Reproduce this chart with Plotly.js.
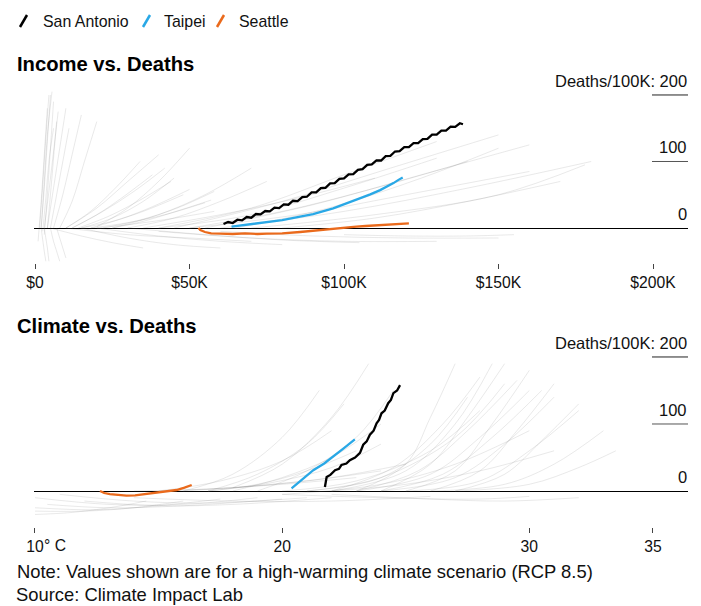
<!DOCTYPE html>
<html>
<head>
<meta charset="utf-8">
<script src="https://cdn.plot.ly/plotly-3.0.1.min.js"></script>
<style>html,body{margin:0;padding:0;background:#fff}#chart{width:701px;height:606px}</style>
</head>
<body>
<div id="chart"></div>
<script>
// ---------- DATA ----------
const cities = ['San Antonio', 'Taipei', 'Seattle'];
const cityColors = ['#000000', '#29a8e6', '#ea6a1c'];

// Income (thousand USD) vs deaths per 100K
const saIncomeX = [61,62.5,64,65.5,67,68.5,70,71.5,73,74.5,76,77.5,79,80.5,82,83.5,85,86.5,88,89.5,91,92.5,94,95.5,97,98.5,100,101.5,103,104.5,106,107.5,109,110.5,112,113.5,115,116.5,118,119.5,121,122.5,124,125.5,127,128.5,130,131.5,133,134.5,136,137.5,138.5];
const saIncomeY = [6,9,7.5,12.5,11.5,16.5,15.5,21,20.5,25.5,25,30.5,30,35.5,35,41,40.5,46.5,47,53.5,53.5,60,60.5,67,67.5,74,74.5,80.5,81,87.5,88.5,95,95.5,101.5,101.5,108,108.5,115,115.5,121.5,121.5,127.5,127.5,133.5,134,140.5,140.5,146.5,146.5,152.5,152,157.5,156];
const tpIncomeX = [63.6,67,71,75,80,85.8,90,96.5,101,105,108.5,111.7,114,116,117.5,119];
const tpIncomeY = [2,4,6,8,12,17,21,29.6,37,44.6,50.5,57,62,67.5,72,76];
const seIncomeX = [52.9,53.5,55,57,60,64,68,72,75,80,85.8,90,96.5,100,104,107,111,115,118,121];
const seIncomeY = [0,-3,-6,-8,-8.5,-9,-8,-9,-8.5,-8,-6,-4,-1,1,2,3,4,5,6,7];

// Climate (mean temperature, deg C) vs deaths per 100K
const saClimateX = [21.73,21.8,21.95,22.14,22.3,22.4,22.6,22.74,22.95,23.15,23.28,23.42,23.55,23.7,23.82,23.92,24.02,24.15,24.29,24.4,24.5,24.65,24.77];
const saClimateY = [6,21,24,31,33,39,41,46,50,57,69,74,84,90,101,106,116,120,131,136,146,150,158];
const tpClimateX = [20.38,20.8,21.26,21.7,22.07,22.5,22.94];
const tpClimateY = [4,17,31,41,51,64,77];
const seClimateX = [12.63,12.8,13.03,13.35,13.7,14.05,14.38,14.7,15.06,15.4,15.73,16.05,16.34];
const seClimateY = [0,-3,-4.5,-6,-7,-6.5,-5,-4,-2.5,-1,1.5,5,9];

// Faint background lines: all other cities (estimated), [x points], [y points]
const incomeOthersX = [
 [2,3,4,5],[3,4,5,6],[1,2,3,4],[4,6,8,10],[5,7,9,11],[6,9,12,15],[8,12,16,20],[2,3,4,5.5],[3,4.5,6,7.5],[1.5,2.5,3.5,4.5],[4,5,6,7],[2.5,3.5,4.5,6],
 [3,3.5,4,4.5],[5,6,7,8],[7,8,9,10],[2,2.5,3,3.5],
 [10,18,26,34],[12,20,28,38],[15,25,35,45],[15,25,35,48],[18,30,42,55],[20,32,44,58],[10,20,30,40],[20,30,40,50],
 [25,40,55,70],[30,45,60,75],[12,22,32,42],[22,34,46,58],[14,24,34,44],[18,28,38,50],[25,35,45,57],
 [40,70,100,130],[50,80,110,140],[50,85,120,160],[60,100,140,180],[70,110,150,178],[40,70,100,130],[45,80,115,150],
 [80,110,140,170],[55,90,125,160],[65,95,125,150],[35,60,85,110],
 [10,30,50,70],[20,40,60,80],[40,70,100,130],[60,90,120,150],[15,30,45,60],[100,120,140,155],[30,55,80,105],[5,15,25,35]
];
const incomeOthersY = [
 [0,60,130,200],[-10,50,120,190],[-20,40,110,180],[0,60,120,180],[0,50,100,150],[0,50,110,170],[0,40,100,160],[0,70,140,205],[0,55,115,175],[0,65,135,200],[0,50,105,160],[-5,45,100,150],
 [0,-15,-30,-50],[0,-20,-35,-50],[0,-15,-30,-45],[0,-18,-35,-50],
 [0,25,60,100],[0,20,45,80],[0,15,40,75],[0,10,25,50],[0,8,20,38],[0,6,14,25],[0,30,70,110],[2,30,70,120],
 [0,20,50,90],[0,15,40,70],[0,25,55,90],[0,12,30,55],[0,18,42,70],[0,14,32,58],[0,10,24,42],
 [0,20,60,105],[0,25,60,100],[0,20,50,85],[0,25,60,100],[0,20,50,95],[0,30,80,130],[0,40,90,140],
 [0,15,40,70],[0,35,80,125],[0,30,75,120],[0,20,45,75],
 [0,-10,-15,-20],[0,-12,-20,-25],[-5,-15,-20,-20],[-5,-12,-15,-15],[0,-15,-25,-30],[-10,-12,-12,-10],[0,-10,-18,-22],[0,-12,-22,-30]
];
const climateOthersX = [
 [10,13,16,19],[10.5,13,16,20],[11,14,17,21],[10,12,14,16],[14,18,22,26],[10,12.5,15,17.5],[12,15,18,22],[10,11.5,13,14.5],
 [14,17,20,23],[15,18,21,24],[16,19,22,25],[17,19,21,23],[18,20,22,24],[17,19,21,22.5],[19,21,23,24.5],[18,20,22,23.5],[16,18,20,21.5],[15,17.5,20,22],[17,19.5,22,24],
 [20,23,26,28],[21,24,27,29],[22,25,27,28.5],[23,26,28,30],[24,27,29,31],[25,28,30,32],[26,29,31,33],[27,30,32,33.5],
 [22,25,28,31],[20,24,27,30],[23,25,26,27],[24,26,27.5,29],[25,27,28.5,30],[21,24,26,27.5],[26,28,29.5,31],[27,29,30.5,32],
 [22,24.5,26.5,28],[23,25.5,27.5,29.5],[24,26.5,28.5,30.5],
 [20,24,28,30],[22,26,29,32]
];
const climateOthersY = [
 [-10,-20,-20,-10],[-20,-25,-22,-12],[-5,-15,-18,-10],[-30,-30,-25,-15],[-10,-15,-15,-8],[-25,-28,-22,-12],[-15,-22,-20,-10],[-35,-32,-25,-15],
 [0,3,10,20],[0,5,15,30],[0,8,20,40],[0,10,30,60],[0,20,50,100],[0,25,70,130],[0,30,80,150],[5,40,110,190],[0,25,80,150],[0,15,45,90],[0,12,35,70],
 [0,15,60,120],[0,20,80,160],[0,30,100,190],[0,25,80,150],[0,20,70,140],[0,15,60,120],[0,10,40,90],[0,10,35,60],
 [0,10,30,60],[-5,10,40,90],[0,40,110,190],[0,40,110,190],[0,30,100,180],[0,20,70,140],[0,30,90,160],[0,25,75,130],
 [0,35,100,170],[0,30,90,165],[0,25,80,150],
 [-5,-10,-12,-8],[-5,-12,-15,-10]
];

const incomeTickVals = [0, 50, 100, 150, 200];
const incomeTickText = ['$0', '$50K', '$100K', '$150K', '$200K'];
const climateTickVals = [10, 20, 30, 35];
const climateTickText = ['10', '20', '30', '35'];
const deathTicks = [0, 100, 200];

// ---------- BUILD ----------
const W = 701, H = 606;
const px = v => v / W;
const py = v => 1 - v / H;
const font = '"Liberation Sans", Arial, Helvetica, sans-serif';
const grayLine = {color: 'rgba(105,105,105,0.15)', width: 1, shape: 'spline'};

const traces = [];
incomeOthersX.forEach((xs, i) => traces.push({type: 'scatter', mode: 'lines', x: xs, y: incomeOthersY[i], xaxis: 'x', yaxis: 'y', line: grayLine, hoverinfo: 'skip'}));
climateOthersX.forEach((xs, i) => traces.push({type: 'scatter', mode: 'lines', x: xs, y: climateOthersY[i], xaxis: 'x2', yaxis: 'y2', line: grayLine, hoverinfo: 'skip'}));

const incomeSets = [[saIncomeX, saIncomeY], [tpIncomeX, tpIncomeY], [seIncomeX, seIncomeY]];
const climateSets = [[saClimateX, saClimateY], [tpClimateX, tpClimateY], [seClimateX, seClimateY]];
[2, 1, 0].forEach(i => {
  traces.push({type: 'scatter', mode: 'lines', name: cities[i], x: incomeSets[i][0], y: incomeSets[i][1], xaxis: 'x', yaxis: 'y', line: {color: cityColors[i], width: 2.3}});
  traces.push({type: 'scatter', mode: 'lines', name: cities[i], x: climateSets[i][0], y: climateSets[i][1], xaxis: 'x2', yaxis: 'y2', line: {color: cityColors[i], width: 2.3}});
});

const xDomain = [px(34), px(688)];
const commonX = {domain: xDomain, showgrid: false, zeroline: false, showline: false, ticks: 'outside', ticklen: 5, tickwidth: 1, tickcolor: '#444', tickfont: {family: font, size: 15.7, color: '#111'}, fixedrange: true};
const commonY = {showgrid: false, showticklabels: false, zeroline: true, zerolinecolor: '#000', zerolinewidth: 1, ticks: '', showline: false, fixedrange: true};

const shapes = [];
const annotations = [];
[['y', 'Income vs. Deaths', 64], ['y2', 'Climate vs. Deaths', 326]].forEach(([yref, title, ty]) => {
  annotations.push({xref: 'paper', yref: 'paper', x: px(15), y: py(ty), xanchor: 'left', yanchor: 'middle', showarrow: false, text: '<b>' + title + '</b>', font: {family: font, size: 20.2, color: '#000'}});
  deathTicks.forEach(v => {
    if (v > 0) shapes.push({type: 'line', xref: 'paper', yref: yref, x0: px(652), x1: px(688), y0: v, y1: v, line: {color: v === 200 ? '#222' : '#555', width: 1}});
    annotations.push({xref: 'paper', yref: yref, x: px(689), y: v, xanchor: 'right', yanchor: 'bottom', yshift: 3, showarrow: false, text: (v === 200 ? 'Deaths/100K: ' : '') + v, font: {family: font, size: 16.5, color: '#111'}});
  });
});
annotations.push({xref: 'x2', yref: 'paper', x: 10, y: py(545), xanchor: 'left', yanchor: 'middle', xshift: 7, showarrow: false, text: '° C', font: {family: font, size: 15.7, color: '#111'}});

// legend (custom)
const legendPos = [[20, 41], [143, 162], [217, 237]];
cities.forEach((c, i) => {
  const [sx, tx] = legendPos[i];
  shapes.push({type: 'line', xref: 'paper', yref: 'paper', x0: px(sx), y0: py(27), x1: px(sx + 7), y1: py(15), line: {color: cityColors[i], width: 2.5}});
  annotations.push({xref: 'paper', yref: 'paper', x: px(tx), y: py(21), xanchor: 'left', yanchor: 'middle', showarrow: false, text: c, font: {family: font, size: 15.9, color: '#111'}});
});
annotations.push({xref: 'paper', yref: 'paper', x: px(15), y: py(571), xanchor: 'left', yanchor: 'middle', showarrow: false, text: 'Note: Values shown are for a high-warming climate scenario (RCP 8.5)', font: {family: font, size: 18.4, color: '#111'}});
annotations.push({xref: 'paper', yref: 'paper', x: px(15), y: 0, xanchor: 'left', yanchor: 'bottom', borderpad: 0, showarrow: false, text: 'Source: Climate Impact Lab', font: {family: font, size: 18.4, color: '#111'}});

const layout = {
  width: W, height: H, margin: {l: 0, r: 0, t: 0, b: 0},
  paper_bgcolor: '#fff', plot_bgcolor: 'rgba(0,0,0,0)', showlegend: false,
  font: {family: font},
  xaxis: Object.assign({}, commonX, {anchor: 'y', range: [-0.324, 211.327], tickvals: incomeTickVals, ticktext: incomeTickText}),
  yaxis: Object.assign({}, commonY, {anchor: 'x', domain: [py(263), py(85)], range: [-52.6, 215.0]}),
  xaxis2: Object.assign({}, commonX, {anchor: 'y2', range: [9.96, 36.42], tickvals: climateTickVals, ticktext: climateTickText}),
  yaxis2: Object.assign({}, commonY, {anchor: 'x2', domain: [py(527), py(350)], range: [-53.7, 210.4]}),
  shapes: shapes, annotations: annotations
};

Plotly.newPlot('chart', traces, layout, {staticPlot: true, displayModeBar: false});
</script>
</body>
</html>
